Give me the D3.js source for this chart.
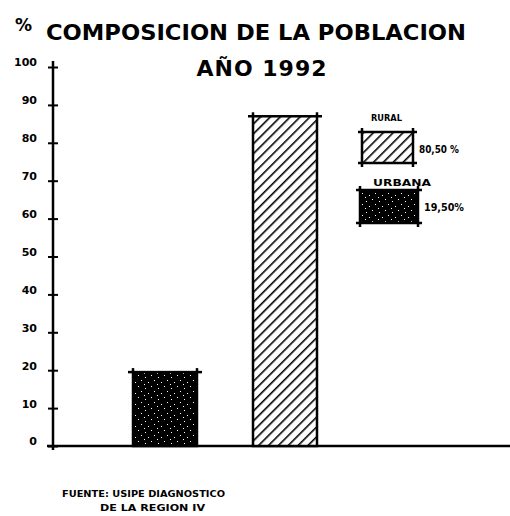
<!DOCTYPE html>
<html>
<head>
<meta charset="utf-8">
<script src="https://cdn.jsdelivr.net/npm/d3@7/dist/d3.min.js"></script>
<style>
  body { margin: 0; background: #fff; }
  text { font-family: "DejaVu Sans", sans-serif; font-weight: bold; fill: #000; }
</style>
</head>
<body>
<div id="chart"></div>
<script>
// Datos
const categorias = ['URBANA', 'RURAL'];
const valores = [19.5, 87];            // altura dibujada de las barras
const leyendaTextos = ['19,50%', '80,50 %'];
const yTicks = [0, 10, 20, 30, 40, 50, 60, 70, 80, 90, 100];

const width = 510, height = 516;

const svg = d3.select('#chart').append('svg')
  .attr('width', width)
  .attr('height', height);

const defs = svg.append('defs');

// Rayado diagonal (rural)
const hatch = defs.append('pattern')
  .attr('id', 'hatch')
  .attr('patternUnits', 'userSpaceOnUse')
  .attr('width', 7).attr('height', 7)
  .attr('patternTransform', 'rotate(45)');
hatch.append('rect').attr('width', 7).attr('height', 7).attr('fill', '#fff');
hatch.append('line')
  .attr('x1', 0).attr('y1', 0).attr('x2', 0).attr('y2', 7)
  .attr('stroke', '#000').attr('stroke-width', 3.2);

// Negro punteado (urbana)
const dots = defs.append('pattern')
  .attr('id', 'dots')
  .attr('patternUnits', 'userSpaceOnUse')
  .attr('width', 13).attr('height', 11);
dots.append('rect').attr('width', 13).attr('height', 11).attr('fill', '#000');
[[2, 3], [8, 1], [5, 8], [11, 6], [1, 10]].forEach(p => {
  dots.append('rect').attr('x', p[0]).attr('y', p[1])
    .attr('width', 1).attr('height', 1).attr('fill', '#fff');
});

const fills = { URBANA: 'url(#dots)', RURAL: 'url(#hatch)' };

// Escalas
const x = d3.scaleBand()
  .domain(categorias)
  .range([73, 377])
  .paddingInner(0.4667)
  .paddingOuter(0.5);

const y = d3.scaleLinear()
  .domain([0, 100])
  .range([446, 67]);

const axisX = 53;

// Titulo
svg.append('text')
  .attr('x', 15).attr('y', 31)
  .attr('font-size', 17)
  .text('%');
svg.append('text')
  .attr('x', 46).attr('y', 40)
  .attr('font-size', 22)
  .attr('textLength', 420)
  .attr('lengthAdjust', 'spacingAndGlyphs')
  .text('COMPOSICION DE LA POBLACION');

svg.append('text')
  .attr('x', 262).attr('y', 76)
  .attr('text-anchor', 'middle')
  .attr('font-size', 22)
  .attr('letter-spacing', 1)
  .text('AÑO 1992');

// Eje Y
const gy = svg.append('g')
  .attr('transform', `translate(${axisX},0)`)
  .call(d3.axisLeft(y).tickValues(yTicks).tickSize(5).tickPadding(11));
gy.select('.domain').remove();
gy.selectAll('.tick line').attr('x1', 5).attr('stroke', '#000').attr('stroke-width', 2);
gy.selectAll('.tick text')
  .attr('font-size', 11)
  .attr('font-family', '"DejaVu Sans", sans-serif')
  .attr('font-weight', 'bold')
  .attr('dy', '-0.1em');

svg.append('line')
  .attr('x1', axisX).attr('x2', axisX)
  .attr('y1', y(0) + 4).attr('y2', y(100) - 6)
  .attr('stroke', '#000').attr('stroke-width', 2.5);

// Linea base
svg.append('line')
  .attr('x1', axisX - 6).attr('x2', width)
  .attr('y1', y(0)).attr('y2', y(0))
  .attr('stroke', '#000').attr('stroke-width', 2.5);

// Esquinas con cruces
function corners(g, x0, y0, w, h, ext) {
  const pts = [[x0, y0, -1, -1], [x0 + w, y0, 1, -1], [x0, y0 + h, -1, 1], [x0 + w, y0 + h, 1, 1]];
  pts.forEach(p => {
    g.append('line').attr('x1', p[0] + p[2] * ext).attr('x2', p[0])
      .attr('y1', p[1]).attr('y2', p[1]);
    g.append('line').attr('x1', p[0]).attr('x2', p[0])
      .attr('y1', p[1] + p[3] * ext).attr('y2', p[1]);
  });
}

// Barras
const bars = svg.append('g');
categorias.forEach((c, i) => {
  const bx = x(c), bw = x.bandwidth();
  const by = y(valores[i]), bh = y(0) - y(valores[i]);
  bars.append('rect')
    .attr('x', bx).attr('y', by)
    .attr('width', bw).attr('height', bh)
    .attr('fill', fills[c])
    .attr('stroke', '#000').attr('stroke-width', 2.5);
  const cg = bars.append('g').attr('stroke', '#000').attr('stroke-width', 2.5);
  const pts = [[bx, by, -1], [bx + bw, by, 1]];
  pts.forEach(p => {
    cg.append('line').attr('x1', p[0] + p[2] * 5).attr('x2', p[0]).attr('y1', p[1]).attr('y2', p[1]);
    cg.append('line').attr('x1', p[0]).attr('x2', p[0]).attr('y1', p[1] - 4).attr('y2', p[1]);
  });
});

// Leyenda
const leyenda = [
  { cat: 'RURAL', box: [362, 132, 51, 31], labelX: 371, labelY: 121, labelW: 31, textY: 153, textW: 40 },
  { cat: 'URBANA', box: [360, 190, 58, 33], labelX: 373, labelY: 186, labelW: 58, textY: 211, textW: 40 }
];
leyenda.forEach(l => {
  const i = categorias.indexOf(l.cat);
  const [bx, by, bw, bh] = l.box;
  svg.append('text')
    .attr('x', l.labelX).attr('y', l.labelY)
    .attr('font-size', 9.5)
    .attr('textLength', l.labelW)
    .attr('lengthAdjust', 'spacingAndGlyphs')
    .text(l.cat);
  svg.append('rect')
    .attr('x', bx).attr('y', by).attr('width', bw).attr('height', bh)
    .attr('fill', fills[l.cat])
    .attr('stroke', '#000').attr('stroke-width', 2.5);
  const cg = svg.append('g').attr('stroke', '#000').attr('stroke-width', 2.5);
  corners(cg, bx, by, bw, bh, 4);
  svg.append('text')
    .attr('x', bx + bw + 6).attr('y', l.textY)
    .attr('font-size', 11)
    .attr('textLength', l.textW)
    .attr('lengthAdjust', 'spacingAndGlyphs')
    .text(leyendaTextos[i]);
});

// Fuente
svg.append('text')
  .attr('x', 62).attr('y', 497)
  .attr('font-size', 9.5)
  .attr('textLength', 163)
  .attr('lengthAdjust', 'spacingAndGlyphs')
  .text('FUENTE: USIPE DIAGNOSTICO');
svg.append('text')
  .attr('x', 100).attr('y', 511)
  .attr('font-size', 9.5)
  .attr('textLength', 105)
  .attr('lengthAdjust', 'spacingAndGlyphs')
  .text('DE LA REGION IV');
</script>
</body>
</html>
